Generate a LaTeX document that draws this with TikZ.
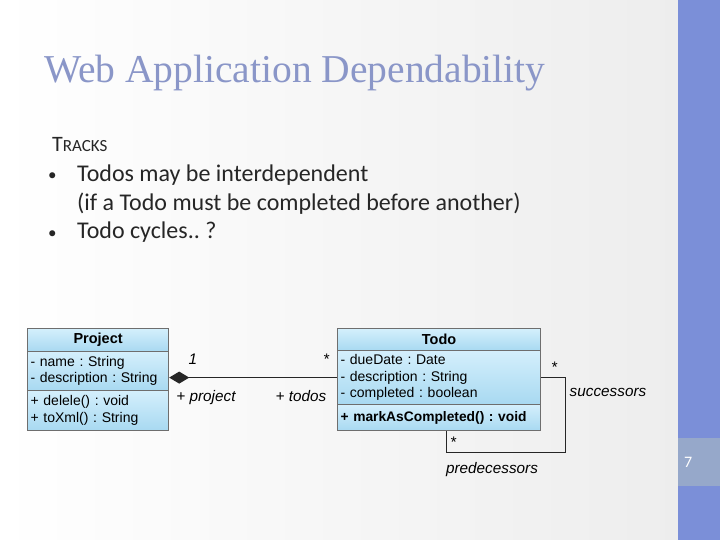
\documentclass[tikz,border=0pt]{standalone}
\usepackage{fontspec}
\setmainfont{Carlito}
\newfontfamily\titlefont{Liberation Serif}
\newfontfamily\umlfont{Liberation Sans}
\usetikzlibrary{arrows.meta,calc}
\frenchspacing

\definecolor{barblue}{HTML}{7B8FD8}
\definecolor{numblue}{HTML}{96A8CA}
\definecolor{titleblue}{HTML}{8A96C8}
\definecolor{bodytext}{HTML}{262626}
\definecolor{umltop}{HTML}{D4EFFC}
\definecolor{umlbot}{HTML}{A8D9F1}
\definecolor{umlline}{HTML}{6E6E6E}

\begin{document}
\begin{tikzpicture}[x=1pt, y=-1pt,
  umlbox/.style  = {draw=umlline, line width=1.2pt, top color=umltop,
                    bottom color=umlbot, anchor=north west, inner xsep=3pt,
                    inner ysep=0pt, align=left,
                    font=\umlfont\fontsize{14}{16.5}\selectfont},
  umlhead/.style = {umlbox, align=center,
                    font=\umlfont\bfseries\fontsize{14.5}{16}\selectfont},
  umllabel/.style = {anchor=base, inner sep=0pt,
                    font=\umlfont\itshape\fontsize{15.3}{18}\selectfont},
  assoc/.style   = {draw=black!85, line width=1pt},
  slidetext/.style = {anchor=base west, inner sep=0pt, text=bodytext,
                    font=\fontsize{24}{28}\selectfont}
]
  \useasboundingbox (0,0) rectangle (720,540);

  % Slide background
  \shade[left color=white, right color=gray!14] (0,0) rectangle (678,540);
  \fill[barblue] (678,0) rectangle (720,540);
  \fill[numblue] (678,438) rectangle (720,486);
  \node[anchor=base west, inner sep=0pt, text=white,
        font=\fontsize{16}{18}\selectfont] (pgnum) at (684,467) {7};

  % Title and bullets
  \node[anchor=base west, inner sep=0pt, text=titleblue,
        font=\titlefont\fontsize{39.5}{44}\selectfont] (title) at (44,83)
        {Web Application Dependability};
  \node[slidetext] (tracks) at (52,152)
        {{\fontsize{22}{24}\selectfont T}{\fontsize{17}{20}\selectfont RACKS}};
  \node[slidetext, font=\fontsize{17}{20}\selectfont] (bullA) at (48,181) {•};
  \node[slidetext] (lineA) at (77,182) {Todos may be interdependent};
  \node[slidetext] (lineB) at (77,211) {(if a Todo must be completed before another)};
  \node[slidetext, font=\fontsize{17}{20}\selectfont] (bullB) at (48,238) {•};
  \node[slidetext] (lineC) at (77,239) {Todo cycles.. ?};

  % Project class
  \node[umlhead, text width=135pt, minimum height=23pt] (phead) at (27,328) {Project};
  \node[umlbox, text width=135pt, minimum height=39pt] (pattr) at (27,351)
        {- name : String\\- description : String};
  \node[umlbox, text width=135pt, minimum height=40pt] (pmeth) at (27,390)
        {+ delele() : void\\+ toXml() : String};

  % Todo class
  \node[umlhead, text width=197pt, minimum height=22pt] (thead) at (337,328) {Todo};
  \node[umlbox, text width=197pt, minimum height=54pt] (tattr) at (337,350)
        {- dueDate : Date\\- description : String\\- completed : boolean};
  \node[umlbox, text width=197pt, minimum height=26pt,
        font=\umlfont\bfseries\fontsize{13.8}{16}\selectfont] (tmeth) at (337,404)
        {\mbox{+ markAsCompleted() : void}};

  % Composition Project -- Todo
  \draw[assoc, {Diamond[length=20pt,width=12pt]}-] (tattr.west -| pattr.east) -- (tattr.west);
  \node[umllabel] (pmult) at (193,364) {1};
  \node[umllabel] (tmult) at (326,364) {*};
  \node[umllabel] (prole) at (206,401) {+ project};
  \node[umllabel] (trole) at (301,401) {+ todos};

  % Self association
  \coordinate (loopr) at (565,452);
  \coordinate (loopl) at (446,452);
  \draw[assoc] (tattr.east) -| (loopr) -- (loopl) -- (loopl |- tmeth.south);
  \node[umllabel] (smult) at (554,372) {*};
  \node[umllabel] (srole) at (608,396) {successors};
  \node[umllabel] (dmult) at (453,447) {*};
  \node[umllabel] (drole) at (492,473) {predecessors};

\end{tikzpicture}
\end{document}
